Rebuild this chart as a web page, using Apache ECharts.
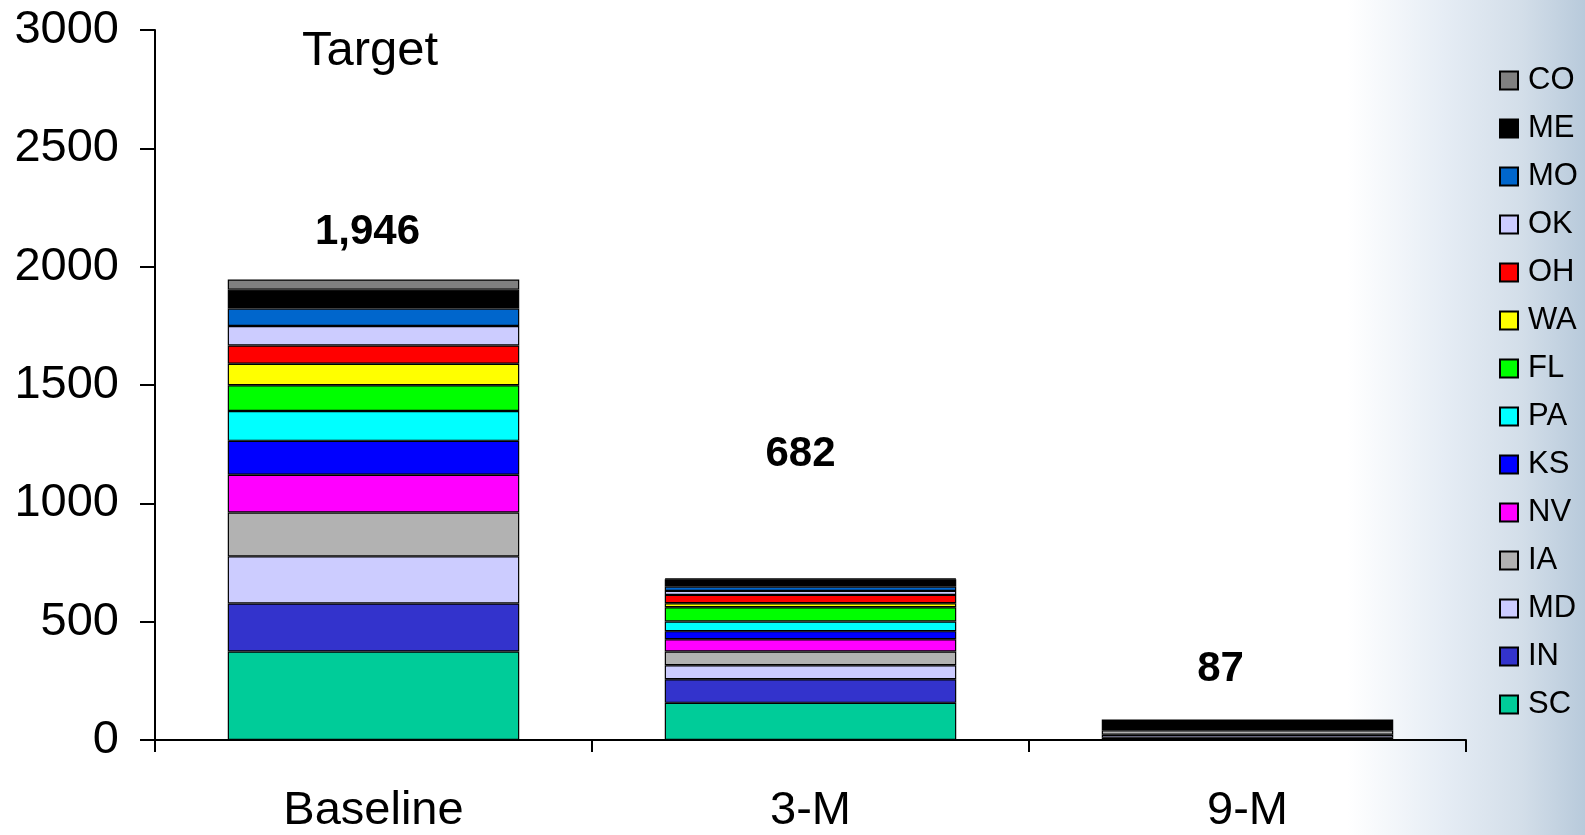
<!DOCTYPE html>
<html>
<head>
<meta charset="utf-8">
<script src="https://cdn.jsdelivr.net/npm/echarts@6/dist/echarts.min.js"></script>
<style>
  html, body { margin: 0; padding: 0; background: #fff; }
  #chart {
    width: 1585px; height: 835px;
    background: linear-gradient(to right, #ffffff 0%, #ffffff 85%, #e6edf5 91%, #d3dee9 96%, #b8cadb 100%);
  }
</style>
</head>
<body>
<div id="chart"></div>
<script>
// ---- data ----
const categories = ['Baseline', '3-M', '9-M'];
const states = ['SC', 'IN', 'MD', 'IA', 'NV', 'KS', 'PA', 'FL', 'WA', 'OH', 'OK', 'MO', 'ME', 'CO'];
const SC = [374, 157, 10];
const IN = [203, 100, '-'];
const MD = [199, 59, 12];
const IA = [185, 58, 19];
const NV = [160, 52, '-'];
const KS = [143, 34, '-'];
const PA = [126, 41, '-'];
const FL = [109, 60, '-'];
const WA = [91, 17, '-'];
const OH = [77, 35, '-'];
const OK = [82, 17, '-'];
const MO = [74, 18, '-'];
const ME = [80, 31, 46];
const CO = [43, 3, '-'];
const totals = [1946, 682, 87];
const totalLabelY = [2144, 1206, 298];
const totalLabelDx = [-6, -10, -27];
const yTicks = [0, 500, 1000, 1500, 2000, 2500, 3000];
const titleText = 'Target';

const values = { SC, IN, MD, IA, NV, KS, PA, FL, WA, OH, OK, MO, ME, CO };
const colors = {
  SC: '#00CC99', IN: '#3333CC', MD: '#CCCCFF', IA: '#B2B2B2', NV: '#FF00FF',
  KS: '#0000FF', PA: '#00FFFF', FL: '#00FF00', WA: '#FFFF00', OH: '#FF0000',
  OK: '#CCCCFF', MO: '#0066CC', ME: '#000000', CO: '#808080'
};

const FONT = '"Liberation Sans", Arial, Helvetica, sans-serif';

const barSeries = states.map(s => ({
  name: s,
  type: 'bar',
  stack: 'total',
  barCategoryGap: '33.3%',
  data: values[s],
  itemStyle: { color: colors[s], borderColor: '#000', borderWidth: 1.2 },
  emphasis: { disabled: true }
}));

const labelSeries = {
  name: 'totals',
  type: 'scatter',
  symbolSize: 1,
  itemStyle: { color: 'rgba(0,0,0,0)', opacity: 1 },
  data: totalLabelY.map((v, i) => ({
    value: v,
    label: { offset: [totalLabelDx[i], 0] }
  })),
  silent: true,
  label: {
    show: true,
    position: 'inside',
    formatter: p => totals[p.dataIndex].toLocaleString('en-US'),
    fontFamily: FONT,
    fontSize: 42,
    fontWeight: 'bold',
    color: '#000',
    opacity: 1,
    textBorderWidth: 0
  },
  emphasis: { disabled: true },
  z: 10
};

const chart = echarts.init(document.getElementById('chart'), null, { renderer: 'canvas' });
chart.setOption({
  animation: false,
  backgroundColor: 'transparent',
  textStyle: { fontFamily: FONT },
  title: {
    text: titleText,
    left: 302,
    top: 27,
    padding: 0,
    textStyle: { fontFamily: FONT, fontSize: 49, fontWeight: 'normal', color: '#000' }
  },
  grid: { left: 155, right: 119, top: 30, bottom: 91, containLabel: false },
  legend: {
    data: states.slice().reverse(),
    orient: 'vertical',
    left: 1494,
    top: 60,
    itemWidth: 18,
    itemHeight: 18,
    itemGap: 17,
    icon: 'rect',
    textStyle: { fontFamily: FONT, fontSize: 31, color: '#000', lineHeight: 30, padding: [0, 0, 0, 5] },
    selectedMode: false
  },
  xAxis: {
    type: 'category',
    data: categories,
    axisLine: { lineStyle: { color: '#000', width: 2 } },
    axisTick: { show: true, length: 12, lineStyle: { color: '#000', width: 2 } },
    axisLabel: { fontFamily: FONT, fontSize: 47, color: '#000', margin: 48 }
  },
  yAxis: {
    type: 'value',
    min: 0,
    max: 3000,
    interval: 500,
    splitLine: { show: false },
    axisLine: { show: true, lineStyle: { color: '#000', width: 2 } },
    axisTick: { show: true, length: 15, lineStyle: { color: '#000', width: 2 } },
    axisLabel: {
      fontFamily: FONT, fontSize: 47, color: '#000', margin: 36,
      formatter: v => (yTicks.indexOf(v) >= 0 ? String(v) : '')
    }
  },
  series: barSeries.concat([labelSeries])
});
</script>
</body>
</html>
